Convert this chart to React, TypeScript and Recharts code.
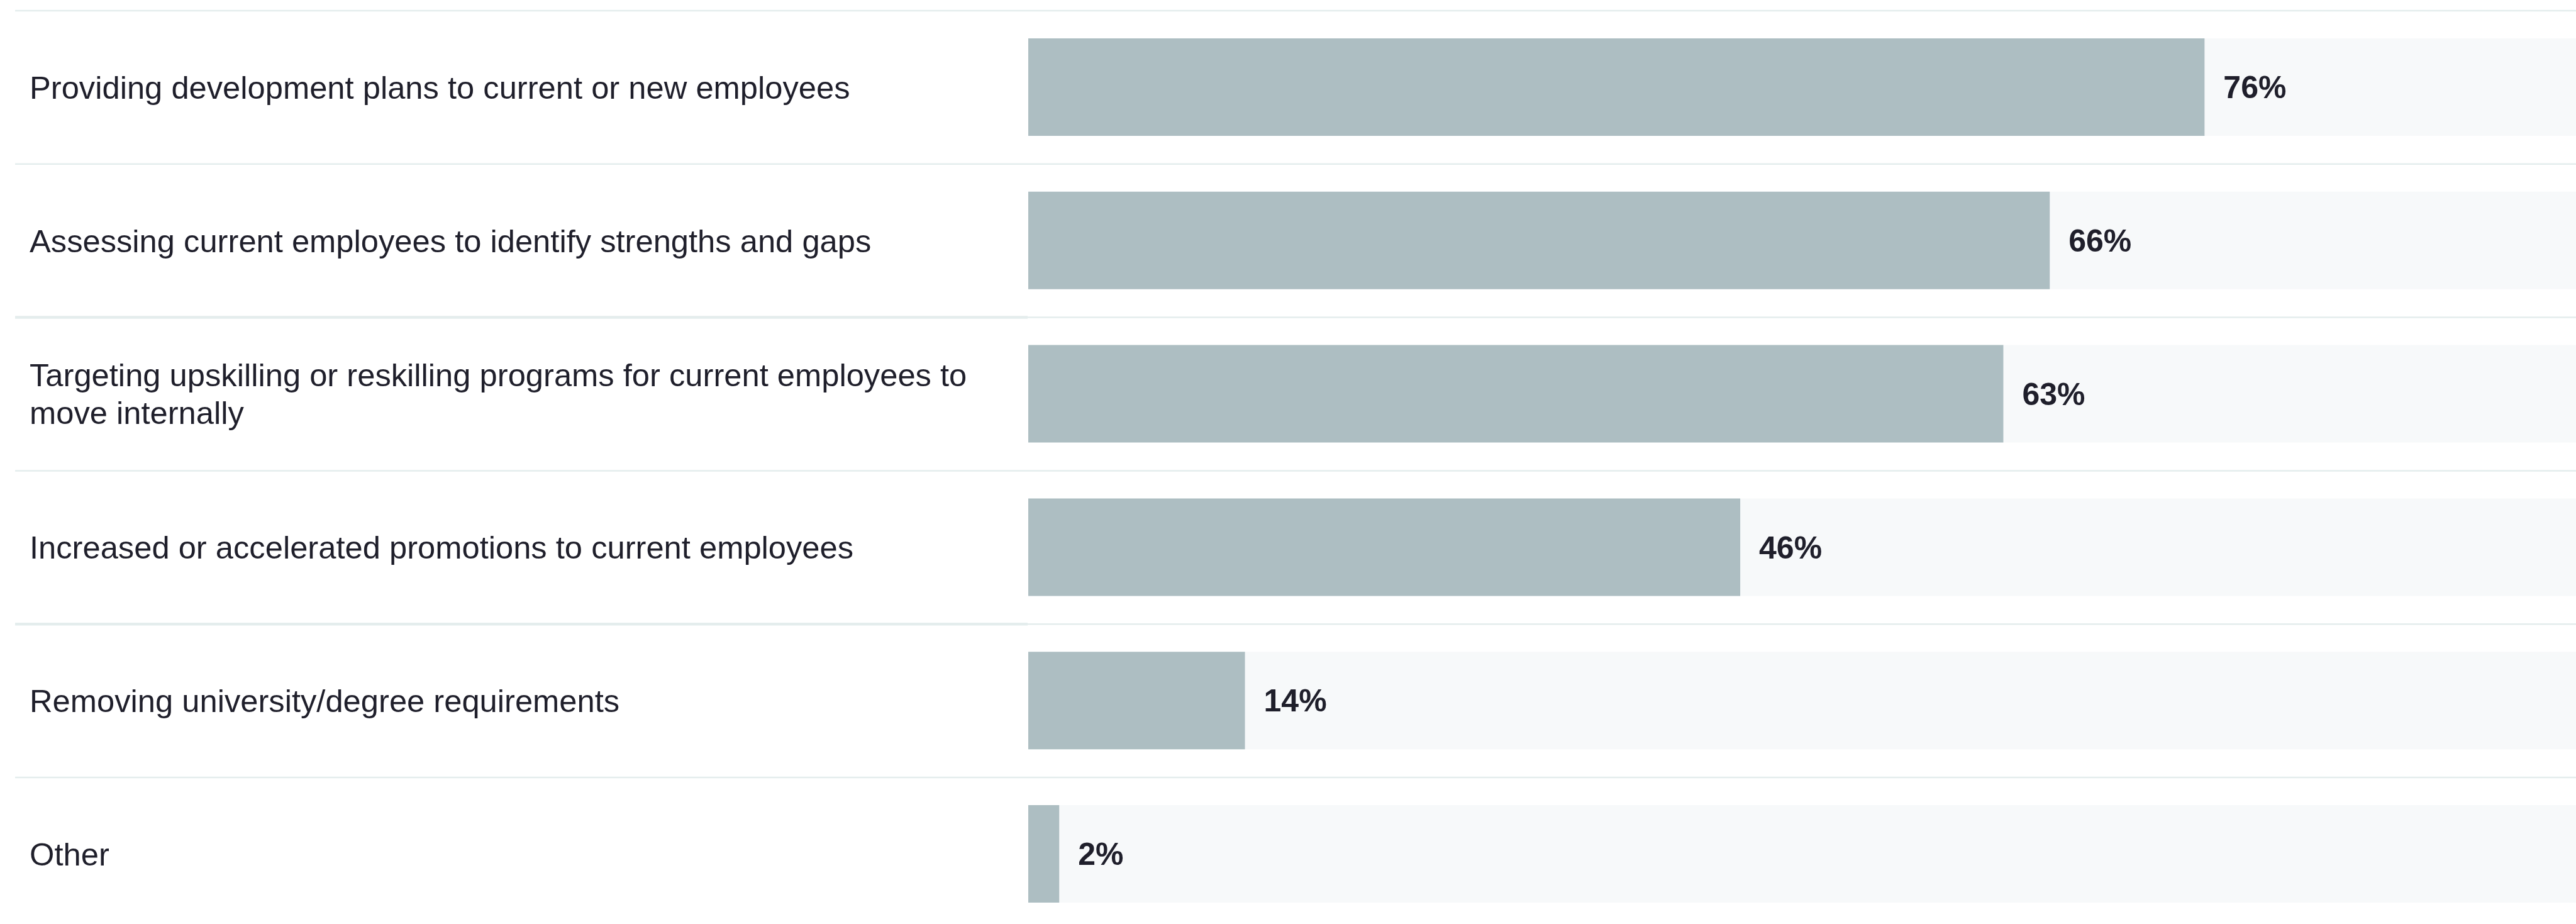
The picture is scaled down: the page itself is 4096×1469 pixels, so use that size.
import React from 'react';
import { BarChart, Bar, XAxis, YAxis, LabelList } from 'recharts';

const categories = [
  'Providing development plans to current or new employees',
  'Assessing current employees to identify strengths and gaps',
  'Targeting upskilling or reskilling programs for current employees to move internally',
  'Increased or accelerated promotions to current employees',
  'Removing university/degree requirements',
  'Other',
];
const values = [76, 66, 63, 46, 14, 2];

const data = categories.map((name, i) => ({ name, value: values[i] }));

const W = 4096;
const TOP = 17;
const BAND = 243.8;
const H = TOP + BAND * categories.length;
const FONT = 'Arial, "Liberation Sans", sans-serif';
const TEXT = '#1f1f2b';
const SEP = '#e4eded';

const wrap = (s: string, max: number) => {
  const out: string[] = [];
  let line = '';
  s.split(' ').forEach((w) => {
    const next = line ? line + ' ' + w : w;
    if (next.length > max && line) {
      out.push(line);
      line = w;
    } else line = next;
  });
  if (line) out.push(line);
  return out;
};

const Tick = (props: any) => {
  const { y, payload, index } = props;
  const lines = wrap(payload.value, 70);
  const lh = 60;
  const top = y - BAND / 2;
  return (
    <g>
      <line x1={24} x2={W} y1={top} y2={top} stroke={SEP} strokeWidth={2.5} />
      {(index === 2 || index === 4) && (
        <line x1={24} x2={1634} y1={top} y2={top} stroke={SEP} strokeWidth={4.5} />
      )}
      <text x={47} y={y - ((lines.length - 1) * lh) / 2} fontSize={50.7} fontFamily={FONT} fill={TEXT} dominantBaseline="central">
        {lines.map((l, i) => (
          <tspan key={i} x={47} dy={i === 0 ? 0 : lh}>
            {l}
          </tspan>
        ))}
      </text>
    </g>
  );
};

const App = () => {
  return (
    <div style={{ position: 'fixed', left: 0, top: 0, width: W, height: 1469, overflow: 'hidden', background: '#fff' }}>
      <BarChart width={W} height={H} data={data} layout="vertical" margin={{ top: TOP, right: 0, bottom: 0, left: 0 }}>
        <XAxis type="number" domain={[0, 100]} hide />
        <YAxis type="category" dataKey="name" width={1635} axisLine={false} tickLine={false} tick={<Tick />} interval={0} />
        <Bar dataKey="value" fill="#adbec2" barSize={155} background={{ fill: '#f7f9fa' }} isAnimationActive={false}>
          <LabelList
            dataKey="value"
            position="right"
            offset={30}
            formatter={(v: any) => `${v}%`}
            style={{ fontSize: 50, fontWeight: 700, fontFamily: FONT, fill: TEXT }}
          />
        </Bar>
      </BarChart>
    </div>
  );
};

export default App;
